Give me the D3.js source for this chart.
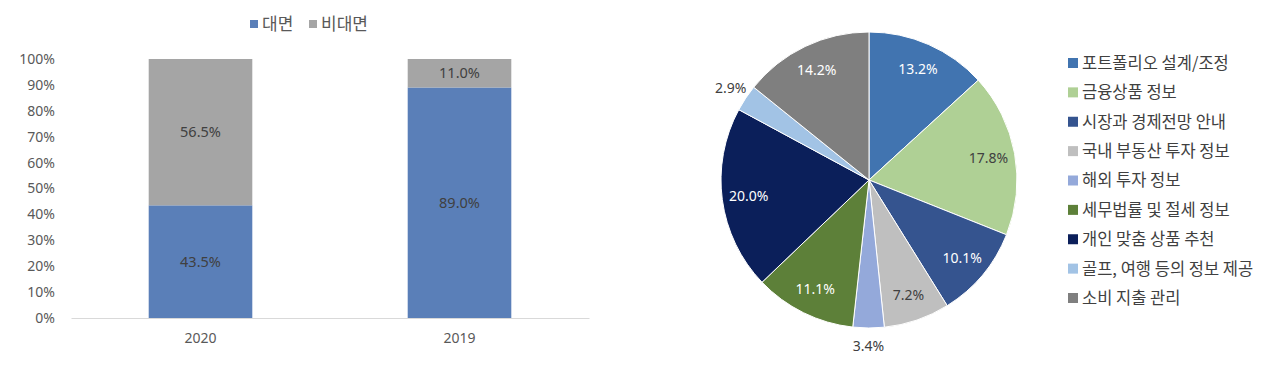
<!DOCTYPE html>
<html><head><meta charset="utf-8">
<script src="https://cdn.jsdelivr.net/npm/d3@7"></script>
<style>
body{margin:0;background:#fff;}
svg{display:block;}
text{font-family:"Noto Sans","Noto Sans CJK KR",sans-serif;}
.kr{font-family:"Noto Sans CJK KR","Noto Sans",sans-serif;}
</style></head>
<body>
<svg id="c" width="1280" height="374"></svg>
<script>
// ---- Data ----
const years = ["2020", "2019"];
const faceToFace = [43.5, 89.0];     // 대면
const nonFaceToFace = [56.5, 11.0];  // 비대면
const barSeries = ["대면", "비대면"];
const yTicks = [0,10,20,30,40,50,60,70,80,90,100];

const pieCategories = ["포트폴리오 설계/조정","금융상품 정보","시장과 경제전망 안내","국내 부동산 투자 정보","해외 투자 정보","세무법률 및 절세 정보","개인 맞춤 상품 추천","골프, 여행 등의 정보 제공","소비 지출 관리"];
const pieValues = [13.2, 17.8, 10.1, 7.2, 3.4, 11.1, 20.0, 2.9, 14.2];

const barColors = ["#5a7fb8", "#a5a5a5"];
const pieColors = ["#4174b0","#afd095","#35548f","#bfbfbf","#94a9da","#5d8039","#0b1f5a","#a2c3e5","#7f7f7f"];
const pieLabelColors = ["#fff","#404040","#fff","#404040","#404040","#fff","#fff","#404040","#fff"];
const outside = [false,false,false,false,true,false,false,true,false];

const svg = d3.select("#c");

// ---- Bar chart ----
const x = d3.scaleBand().domain(years).range([71, 589]).paddingInner(0.6).paddingOuter(0.3);
const y = d3.scaleLinear().domain([0, 100]).range([318, 59]);

const stacked = years.map((yr, i) => ({yr, a: faceToFace[i], b: nonFaceToFace[i]}));
const g = svg.append("g");

g.selectAll("rect.a").data(stacked).enter().append("rect")
  .attr("x", d => x(d.yr)).attr("width", x.bandwidth())
  .attr("y", d => y(d.a)).attr("height", d => y(0) - y(d.a))
  .attr("fill", barColors[0]);
g.selectAll("rect.b").data(stacked).enter().append("rect")
  .attr("x", d => x(d.yr)).attr("width", x.bandwidth())
  .attr("y", d => y(d.a + d.b)).attr("height", d => y(d.a) - y(d.a + d.b))
  .attr("fill", barColors[1]);

// baseline
const xAxis = g.append("g").attr("transform", `translate(0,${y(0)})`)
  .call(d3.axisBottom(x).tickSize(0).tickPadding(15).tickSizeOuter(0));
xAxis.select(".domain").attr("stroke", "#d9d9d9").attr("stroke-width", 1.2);
xAxis.selectAll("text").attr("font-size", "14px").attr("fill", "#595959")
  .style("font-family", '"Noto Sans",sans-serif');

const yAxis = g.append("g").attr("transform", `translate(55,0)`)
  .call(d3.axisLeft(y).tickValues(yTicks).tickFormat(d => d + "%").tickSize(0).tickPadding(0));
yAxis.select(".domain").remove();
yAxis.selectAll("text").attr("font-size", "14px").attr("fill", "#595959")
  .style("font-family", '"Noto Sans",sans-serif');

// bar labels
g.selectAll("text.la").data(stacked).enter().append("text")
  .attr("x", d => x(d.yr) + x.bandwidth()/2).attr("y", d => y(d.a/2))
  .attr("dy", "0.35em").attr("text-anchor", "middle")
  .attr("font-size", "14.5px").attr("fill", "#404040")
  .text(d => d.a.toFixed(1) + "%");
g.selectAll("text.lb").data(stacked).enter().append("text")
  .attr("x", d => x(d.yr) + x.bandwidth()/2).attr("y", d => y(d.a + d.b/2))
  .attr("dy", "0.35em").attr("text-anchor", "middle")
  .attr("font-size", "14.5px").attr("fill", "#404040")
  .text(d => d.b.toFixed(1) + "%");

// bar legend
const legX = [250, 309];
barSeries.forEach((s, i) => {
  g.append("rect").attr("x", legX[i]).attr("y", 20).attr("width", 8).attr("height", 8).attr("fill", barColors[i]);
  g.append("text").attr("class", "kr").attr("x", legX[i] + 12).attr("y", 24).attr("dy", "0.36em")
    .attr("font-size", "17px").attr("fill", "#595959").text(s);
});

// ---- Pie chart ----
const cx = 869, cy = 180, R = 148;
const pg = svg.append("g").attr("transform", `translate(${cx},${cy})`);
const pie = d3.pie().sort(null).value(d => d)(pieValues);
const arc = d3.arc().innerRadius(0).outerRadius(R);
const inArc = d3.arc().innerRadius(R * 0.82).outerRadius(R * 0.82);
const outArc = d3.arc().innerRadius(R + 18).outerRadius(R + 18);

pg.selectAll("path").data(pie).enter().append("path")
  .attr("d", arc).attr("fill", (d, i) => pieColors[i])
  .attr("stroke", "#fff").attr("stroke-width", 1);

pg.selectAll("text.pl").data(pie).enter().append("text")
  .attr("transform", (d, i) => `translate(${(outside[i] ? outArc : inArc).centroid(d)})`)
  .attr("dy", "0.35em").attr("text-anchor", "middle")
  .attr("font-size", "14px").attr("fill", (d, i) => pieLabelColors[i])
  .text(d => d.data.toFixed(1) + "%");

// pie legend
const ly = d3.scalePoint().domain(pieCategories).range([63, 298]);
const lg = svg.append("g");
pieCategories.forEach((c, i) => {
  lg.append("rect").attr("x", 1068).attr("y", ly(c) - 5).attr("width", 10).attr("height", 10).attr("fill", pieColors[i]);
  lg.append("text").attr("class", "kr").attr("x", 1082).attr("y", ly(c)).attr("dy", "0.36em")
    .attr("font-size", "16.5px").attr("fill", "#404040").text(c);
});
</script>
</body></html>
